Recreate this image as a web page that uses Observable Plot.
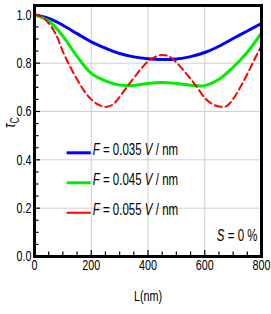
<!DOCTYPE html>
<html><head><meta charset="utf-8">
<script src="https://cdn.jsdelivr.net/npm/d3@7"></script>
<script src="https://cdn.jsdelivr.net/npm/@observablehq/plot@0.6"></script>
<style>
html,body{margin:0;padding:0;background:#fff;}
#chart svg{font-family:"Liberation Sans",Arial,sans-serif;}
</style></head><body><div id="chart"></div>
<script>
// Data
const lengthCoarse = [0,50,100,150,200,250,300,350,400,450,500,550,600,650,700,750,800];
const tauF035 = [1.0,0.985,0.957,0.922,0.888,0.862,0.840,0.826,0.818,0.815,0.817,0.827,0.844,0.870,0.902,0.933,0.964];
const tauF045 = [1.0,0.974,0.912,0.828,0.758,0.727,0.709,0.708,0.716,0.720,0.716,0.709,0.707,0.733,0.783,0.845,0.925];
const lengthFine = [0,25,50,75,100,125,150,175,200,225,250,275,300,325,350,375,400,425,450,475,500,525,550,575,600,625,650,675,700,725,750,775,800];
const tauF055 = [1.0,0.992,0.965,0.92,0.848,0.787,0.733,0.685,0.65,0.628,0.619,0.628,0.66,0.70,0.738,0.776,0.807,0.826,0.834,0.828,0.803,0.77,0.735,0.697,0.656,0.632,0.621,0.621,0.652,0.70,0.755,0.815,0.872];
const fieldLabels = ["0.035","0.045","0.055"];
const seriesColors = ["#0000ff","#00ee00","#ff0000"];
const xTicks = [0,200,400,600,800];
const yTicks = [0,0.2,0.4,0.6,0.8,1.0];
const xMinor = d3.range(0,801,50);
const yMinor = d3.range(0,1.001,0.05).map(v=>+v.toFixed(2));
const xLabel = "L(nm)";
const yLabel = "τC";
const noteText = "S = 0 %";

const W = 271, H = 314, mL = 34, mR = 10, mT = 5, mB = 58;
const plotW = W - mL - mR, plotH = H - mT - mB;
const NARROW = 0.72; // horizontal squeeze of the condensed reference font

const blue = lengthCoarse.map((L,i)=>({L, tau: tauF035[i]}));
const green = lengthCoarse.map((L,i)=>({L, tau: tauF045[i]}));
const red = lengthFine.map((L,i)=>({L, tau: tauF055[i]}));

// legend rows (in chart coordinates)
const legend = fieldLabels.map((f,i)=>({f, i, y: 0.429 - i*0.124}));

const chart = Plot.plot({
  width: W, height: H,
  marginLeft: mL, marginRight: mR, marginTop: mT, marginBottom: mB,
  style: {fontSize: "15px", color: "#000", background: "#fff", overflow: "visible"},
  x: {domain: [0,800]},
  y: {domain: [0,1.0385]},
  marks: [
    Plot.gridX([200,400,600], {stroke: "#cfcfcf", strokeOpacity: 1, strokeWidth: 1}),
    Plot.gridY([0.2,0.4,0.6,0.8], {stroke: "#cfcfcf", strokeOpacity: 1, strokeWidth: 1}),
    Plot.tickX(xMinor.filter(v=>v%200!==0), {x: d=>d, insetTop: plotH-4.5, stroke: "#000", strokeWidth: 1.2}),
    Plot.tickX(xTicks, {x: d=>d, insetTop: plotH-6, stroke: "#000", strokeWidth: 1.2}),
    Plot.tickY(yMinor.filter(v=>Math.round(v*100)%20!==0), {y: d=>d, insetRight: plotW-4.5, stroke: "#000", strokeWidth: 1.2}),
    Plot.tickY(yTicks, {y: d=>d, insetRight: plotW-6, stroke: "#000", strokeWidth: 1.2}),
    Plot.line(blue, {x: "L", y: "tau", stroke: seriesColors[0], strokeWidth: 3, curve: "catmull-rom"}),
    Plot.line(green, {x: "L", y: "tau", stroke: seriesColors[1], strokeWidth: 3, curve: "catmull-rom"}),
    Plot.line(red, {x: "L", y: "tau", stroke: seriesColors[2], strokeWidth: 2, strokeDasharray: "7,4", curve: "catmull-rom"}),
    Plot.ruleY(legend, {y: "y", x1: 115, x2: 200, stroke: d=>seriesColors[d.i], strokeWidth: d=>d.i===2?2:3, strokeDasharray: d=>d.i===2?"4,2":null}),
    Plot.text(legend, {x: 205, y: "y", text: d=>`F = ${d.f} V / nm`, textAnchor: "start", dy: -3, fontSize: 16, className: "legtext"}),
    Plot.text([noteText], {frameAnchor: "bottom-right", dx: -4, dy: -16, textAnchor: "end", fontSize: 16, className: "notetext"}),
    Plot.axisX({ticks: xTicks, tickSize: 0, tickPadding: 3, label: null, fontSize: 15}),
    Plot.axisY({ticks: yTicks, tickSize: 0, tickPadding: 3, label: null, tickFormat: d3.format(".1f"), fontSize: 15}),
    Plot.text([xLabel], {frameAnchor: "bottom", dy: 44, fontSize: 15}),
    Plot.text([yLabel], {frameAnchor: "left", dx: -25, dy: -3, rotate: -90, fontSize: 17, className: "ylab"}),
    Plot.frame({stroke: "#000", strokeWidth: 3})
  ]
});
document.getElementById("chart").appendChild(chart);

// rich text: italic variable names, subscript
d3.select(chart).selectAll(".legtext text").each(function(){
  const t = d3.select(this); const s = t.text();
  const m = s.match(/^F = (\S+) V \/ nm$/);
  if (!m) return;
  t.text(null);
  t.append("tspan").attr("font-style","italic").text("F");
  t.append("tspan").text(" = " + m[1] + " ");
  t.append("tspan").attr("font-style","italic").text("V");
  t.append("tspan").text(" / nm");
});
d3.select(chart).selectAll(".notetext text").each(function(){
  const t = d3.select(this);
  t.text(null);
  t.append("tspan").attr("font-style","italic").text("S");
  t.append("tspan").text(" = 0 %");
});
d3.select(chart).selectAll(".ylab text").each(function(){
  const t = d3.select(this);
  t.text(null);
  t.append("tspan").attr("font-style","italic").text("τ");
  t.append("tspan").attr("font-size","12").attr("dy","0.3em").text("C");
});
// condensed look: squeeze every text horizontally about its anchor
d3.select(chart).selectAll("text").each(function(){
  const el = this;
  let tr = el.getAttribute("transform");
  if (!tr) {
    const x = +(el.getAttribute("x")||0), y = +(el.getAttribute("y")||0);
    el.removeAttribute("x"); el.removeAttribute("y");
    tr = `translate(${x},${y})`;
  }
  el.setAttribute("transform", tr + ` scale(${NARROW},1)`);
});
</script></body></html>
